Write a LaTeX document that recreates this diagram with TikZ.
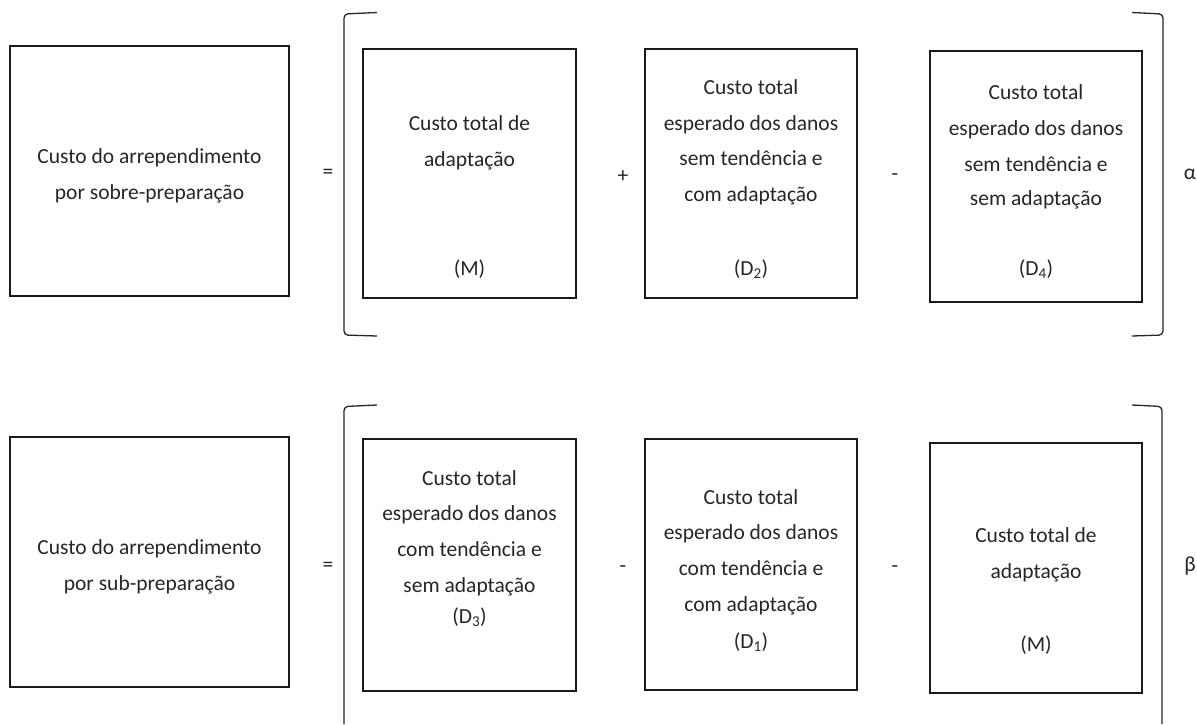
\documentclass[tikz,border=0pt]{standalone}
\usepackage{fontspec}
\setmainfont{Carlito}
\begin{document}
\begin{tikzpicture}[x=1pt,y=-1pt,
  box/.style={draw=black!90, line width=2.6pt, inner sep=0pt},
  lbl/.style={font=\fontsize{21.5}{26}\selectfont, text=black!85, anchor=base, inner sep=0pt},
  op/.style={font=\fontsize{21.5}{26}\selectfont, text=black!85, inner sep=0pt},
  brk/.style={draw=black!85, line width=1.3pt, rounded corners=4pt}]
\useasboundingbox (0,0) rectangle (1197,724);

% ---------- over-preparation (alpha) ----------
\node[box, minimum width=279pt, minimum height=250pt] (lhsA) at (149.5,171) {};
\node[lbl] (lhsA1) at (149.5,163) {Custo do arrependimento};
\node[lbl] (lhsA2) at (149.5,199) {por sobre-preparação};
\node[op] (eqA) at (328,174) {=};

\draw[brk] (377,12.5) -- (344,14) -- (344,335) -- (377,336);

\node[box, minimum width=213pt, minimum height=249pt] (mA) at (469.5,173.5) {};
\node[lbl] (mA1) at (469.5,130) {Custo total de};
\node[lbl] (mA2) at (469.5,166) {adaptação};
\node[lbl] (mA3) at (469.5,275) {(M)};

\node[op] (plusA) at (623,177) {+};

\node[box, minimum width=212pt, minimum height=249pt] (dtwo) at (751,173.5) {};
\node[lbl] (dtwo1) at (751,94) {Custo total};
\node[lbl] (dtwo2) at (751,130) {esperado dos danos};
\node[lbl] (dtwo3) at (751,165) {sem tendência e};
\node[lbl] (dtwo4) at (751,201) {com adaptação};
\node[lbl] (dtwo5) at (751,275) {(D\textsubscript{2})};

\node[op] (minusA) at (895,177) {-};

\node[box, minimum width=212pt, minimum height=251pt] (dfour) at (1036,176.5) {};
\node[lbl] (dfour1) at (1036,99) {Custo total};
\node[lbl] (dfour2) at (1036,135) {esperado dos danos};
\node[lbl] (dfour3) at (1036,171) {sem tendência e};
\node[lbl] (dfour4) at (1036,205) {sem adaptação};
\node[lbl] (dfour5) at (1036,275) {(D\textsubscript{4})};

\draw[brk] (1132,12.5) -- (1163,14) -- (1163,335) -- (1132,336);
\node[op] (alpha) at (1190,174) {α};

% ---------- under-preparation (beta) ----------
\node[box, minimum width=279pt, minimum height=250pt] (lhsB) at (149.5,562) {};
\node[lbl] (lhsB1) at (149.5,554) {Custo do arrependimento};
\node[lbl] (lhsB2) at (149.5,590) {por sub-preparação};
\node[op] (eqB) at (328,567) {=};

\draw[brk] (377,405) -- (344,406.5) -- (344,724);

\node[box, minimum width=213pt, minimum height=252pt] (dthree) at (469.5,565) {};
\node[lbl] (dthree1) at (469.5,485) {Custo total};
\node[lbl] (dthree2) at (469.5,520) {esperado dos danos};
\node[lbl] (dthree3) at (469.5,556) {com tendência e};
\node[lbl] (dthree4) at (469.5,592) {sem adaptação};
\node[lbl] (dthree5) at (469.5,623) {(D\textsubscript{3})};

\node[op] (minusB) at (623,569) {-};

\node[box, minimum width=212pt, minimum height=251pt] (done) at (751,564.5) {};
\node[lbl] (done1) at (751,504) {Custo total};
\node[lbl] (done2) at (751,539) {esperado dos danos};
\node[lbl] (done3) at (751,575) {com tendência e};
\node[lbl] (done4) at (751,611) {com adaptação};
\node[lbl] (done5) at (751,648) {(D\textsubscript{1})};

\node[op] (minusC) at (895,569) {-};

\node[box, minimum width=212pt, minimum height=250pt] (mB) at (1036,568) {};
\node[lbl] (mB1) at (1036,542) {Custo total de};
\node[lbl] (mB2) at (1036,578) {adaptação};
\node[lbl] (mB3) at (1036,651) {(M)};

\draw[brk] (1132,405) -- (1162,406.5) -- (1162,724);
\node[op] (beta) at (1190,566) {β};
\end{tikzpicture}
\end{document}
